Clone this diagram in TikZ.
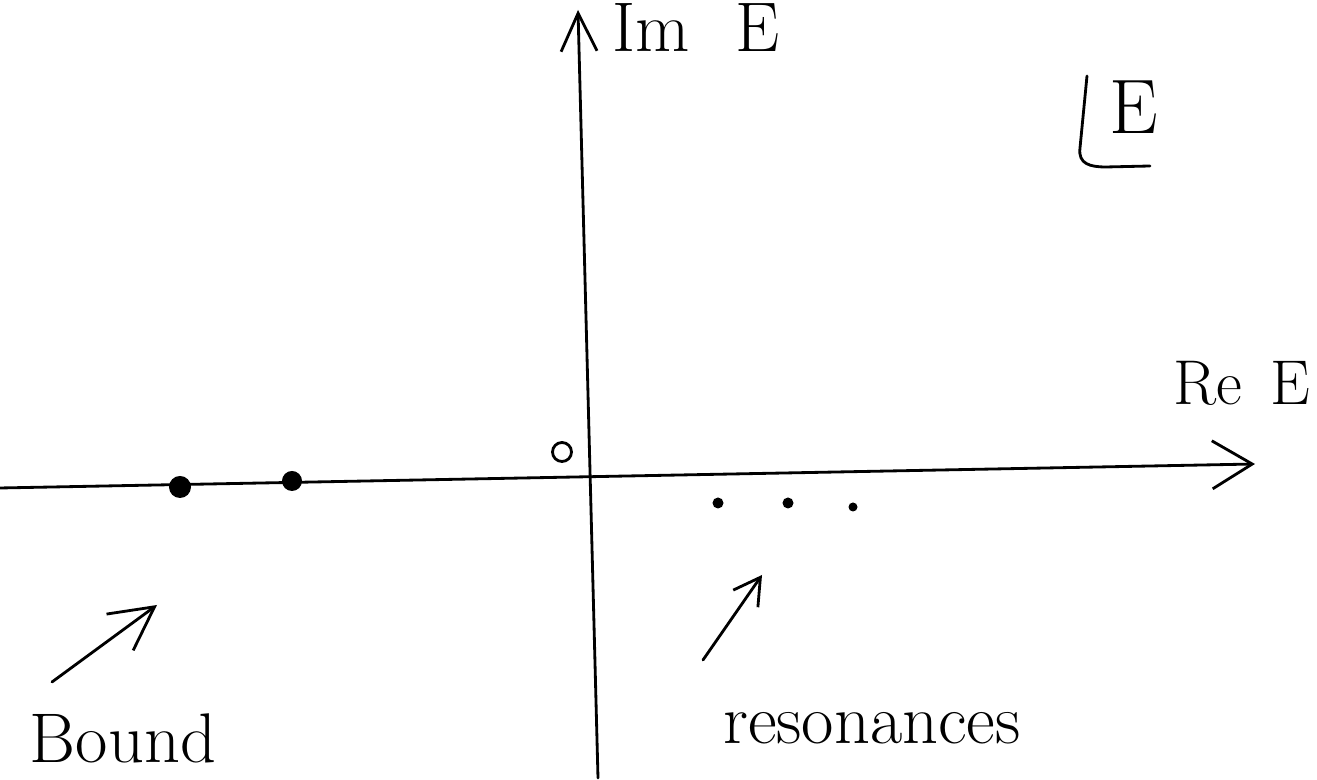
\documentclass[tikz,border=0pt]{standalone}
\usetikzlibrary{arrows.meta}

\begin{document}
\begin{tikzpicture}[x=0.01cm, y=-0.01cm,
    axis/.style={thick, line cap=round},
    pointer/.style={thick, line cap=round,
                    -{Straight Barb[length=4.3mm, width=4.5mm]}},
    bound/.style={circle, fill, inner sep=0pt, minimum size=0.22cm},
    virt/.style={circle, draw, thick, inner sep=0pt, minimum size=0.19cm},
    reso/.style={circle, fill, inner sep=0pt, minimum size=0.11cm},
    lbl/.style={inner sep=0pt, font=\fontsize{20}{24}\selectfont}
  ]
    \useasboundingbox (0,0) rectangle (1317,780);

    % axes
    \coordinate (reneg) at (0,488);
    \coordinate (repos) at (1255,464);
    \coordinate (imneg) at (598,778);
    \coordinate (impos) at (578,10);
    \draw[axis, -{Straight Barb[length=4mm, width=4.8mm]}] (reneg) -- (repos);
    \draw[axis, -{Straight Barb[length=3.8mm, width=3.6mm]}] (imneg) -- (impos);

    \node[lbl, anchor=base west] (imlbl) at (612,52) {Im\hspace{0.65em}E};
    \node[lbl, anchor=base east, font=\fontsize{18}{22}\selectfont] (relbl) at (1311,405) {Re\hspace{0.45em}E};

    % energy plane mark
    \node[lbl, font=\fontsize{22}{26}\selectfont] (plane) at (1134,107) {E};
    \draw[thick, line cap=round] (1087,76) -- (1080,148)
      .. controls (1078,164) and (1090,167) .. (1106,167) -- (1150,166);

    % poles
    \node[bound] (b1) at (180,487) {};
    \node[bound, minimum size=0.2cm] (b2) at (292,481) {};
    \node[virt] (v1) at (562,452) {};
    \node[reso] (r1) at (718,503) {};
    \node[reso] (r2) at (788,503) {};
    \node[reso, minimum size=0.09cm] (r3) at (853,507) {};

    % pointers
    \coordinate (btail) at (52,682);
    \coordinate (bhead) at (157,605);
    \coordinate (rtail) at (703,660);
    \coordinate (rhead) at (762,575);
    \draw[pointer] (btail) -- (bhead);
    \draw[pointer, -{Straight Barb[length=2.6mm, width=3mm]}] (rtail) -- (rhead);

    \node[lbl] (boundlbl) at (123,738) {Bound};
    \node[lbl] (resolbl) at (872,728) {resonances};
  \end{tikzpicture}
\end{document}
